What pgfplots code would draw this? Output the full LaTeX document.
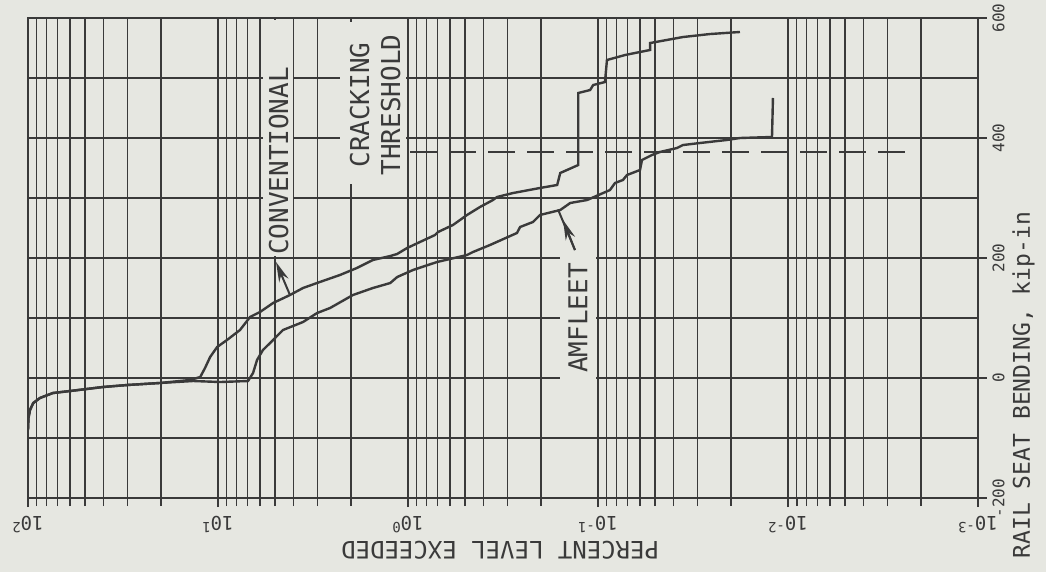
\documentclass[border=0pt]{standalone}
\usepackage{fontspec}
\setmainfont{DejaVu Sans Mono}
\usepackage{pgfplots}
\pgfplotsset{compat=1.18}
\usepackage{pgfplotstable}
\usetikzlibrary{arrows.meta}
\definecolor{bg}{RGB}{230,231,225}
\definecolor{ink}{RGB}{58,58,58}
\newcommand\sps[1]{\raisebox{0.6ex}{\fontsize{7bp}{7bp}\selectfont #1}}

% percent exceeded, rail seat bending (kip-in)
\pgfplotstableread{
p b
100 -86.7
99.4 -66.7
97.6 -53.3
93.8 -41.7
86.5 -33.3
73.9 -25
60.1 -21.7
40.3 -15
30.1 -11.7
20.2 -8.3
14.0 -3.3
12.4 1.7
11.7 16.7
11.0 35
10.1 51.7
8.97 63.3
7.66 80
6.78 101.7
6.01 110
5.13 125
4.18 138.3
3.57 150
2.91 160
2.28 171.7
1.86 183.3
1.53 196.7
1.24 203.3
1.14 206.7
1.01 216.7
0.865 226.7
0.721 238.3
0.695 243.3
0.580 255
0.489 271.7
0.418 285
0.357 296.7
0.340 301.7
0.280 308.3
0.202 316.7
0.164 321.7
0.158 341.7
0.127 355
0.127 475
0.110 480
0.106 488.3
0.0919 493.3
0.0897 530
0.0721 538.3
0.0532 546.7
0.0532 558.3
0.0357 568.3
0.0257 573.3
0.0179 576.7
}\conventional

\pgfplotstableread{
p b
100 -86.7
99.4 -66.7
97.6 -53.3
93.8 -41.7
86.5 -33.3
73.9 -25
60.1 -21.7
40.3 -15
30.1 -11.7
20.2 -8.3
13.5 -5
9.76 -6.7
6.95 -5
6.54 8.3
6.23 30
5.80 46.7
5.32 58.3
4.55 80
3.57 93.3
3.01 108.3
2.57 116.7
1.95 138.3
1.53 150
1.24 158.3
1.14 168.3
0.941 180
0.704 193.3
0.489 205
0.455 210
0.370 221.7
0.267 241.7
0.257 251.7
0.220 260
0.202 271.7
0.158 280
0.140 291.7
0.114 296.7
0.0865 313.3
0.0814 325
0.0739 330
0.0704 338.3
0.0601 346.7
0.0587 363.3
0.0520 371.7
0.0472 376.7
0.0384 383.3
0.0357 388.3
0.0290 391.7
0.0210 396.7
0.0179 400
0.01214 401.7
0.0120 466.7
}\amfleet

\begin{document}
\begin{tikzpicture}
\fill[bg, use as bounding box] (-14bp,-37bp) rectangle (509bp,249bp);
\begin{axis}[
  at={(0,0)}, anchor=south west,
  scale only axis, width=475bp, height=240bp,
  xmode=log, x dir=reverse, xmin=1e-3, xmax=1e2,
  ymin=-200, ymax=600,
  xtick={1e-3,1e-2,1e-1,1,10,100},
  xticklabels={10\sps{-3},10\sps{-2},10\sps{-1},10\sps{0},10\sps{1},10\sps{2}},
  minor xtick={0.002,0.003,0.004,0.005,0.006,0.007,0.008,0.009,
               0.02,0.03,0.04,0.05,0.06,0.07,0.08,0.09,
               0.2,0.3,0.4,0.5,0.6,0.7,0.8,0.9,
               2,3,4,5,6,7,8,9,
               20,30,40,50,60,70,80,90},
  ytick={-200,0,200,400,600},
  yticklabels={-200,0,200,400,600},
  extra y ticks={-100,100,300,500},
  extra y tick labels={},
  extra y tick style={grid=major, major tick length=0pt},
  grid=both,
  major grid style={ink, line width=0.8bp},
  minor grid style={ink, line width=0.75bp},
  axis line style={ink, line width=1.4bp},
  tick style={ink, line width=0.8bp},
  tick align=outside,
  major tick length=4.5bp, minor tick length=4bp,
  xtick pos=left, ytick pos=right, yticklabel pos=right,
  xticklabel style={rotate=180, anchor=south, inner sep=1bp, text=ink,
    font=\fontsize{9.5bp}{9.5bp}\selectfont, yshift=3.5bp},
  yticklabel style={rotate=90, anchor=north, inner sep=1bp, text=ink,
    font=\fontsize{8bp}{8bp}\selectfont, yshift=-1.5bp},
  every axis x label/.style={at={(axis description cs:0.497,-0.108)}, rotate=180,
    anchor=center, text=ink, font=\fontsize{12bp}{12bp}\selectfont},
  every axis y label/.style={at={(axis description cs:1.048,0.235)}, rotate=90,
    anchor=center, text=ink, font=\fontsize{11.5bp}{11.5bp}\selectfont},
  xlabel={PERCENT LEVEL EXCEEDED},
  ylabel={RAIL SEAT BENDING, kip-in},
]
% label boxes
\fill[bg] (axis cs:5.80,596.7) rectangle (axis cs:4.03,203);
\fill[bg] (axis cs:2.28,593.3) rectangle (axis cs:1.024,323.3);
\fill[bg] (axis cs:0.158,205) rectangle (axis cs:0.1024,-11.7);
\node[rotate=90, text=ink, font=\fontsize{13bp}{13bp}\selectfont] at (axis cs:4.80,361.7) {CONVENTIONAL};
\node[rotate=90, text=ink, align=center, font=\fontsize{13bp}{15.5bp}\selectfont] at (axis cs:1.49,455) {CRACKING\\THRESHOLD};
\node[rotate=90, text=ink, font=\fontsize{13bp}{13bp}\selectfont] at (axis cs:0.1274,100) {AMFLEET};
% threshold
\addplot[ink, line width=1bp, dash pattern=on 13.5bp off 6bp] coordinates {(0.976,376) (0.00215,376)};
% curves
\addplot[ink, line width=1.2bp] table[x=p, y=b] {\conventional};
\addplot[ink, line width=1.2bp] table[x=p, y=b] {\amfleet};
% arrows
\draw[ink, line width=1bp, -{Stealth[length=10bp,width=5bp]}] (axis cs:4.18,138.3) -- (axis cs:4.95,193.3);
\draw[ink, line width=1bp] (axis cs:0.1322,213.3) -- (axis cs:0.1624,281);
\draw[ink, line width=1bp, -{Stealth[length=10bp,width=5bp]}] (axis cs:0.1322,213.3) -- (axis cs:0.1528,263.3);
\end{axis}
\end{tikzpicture}
\end{document}
